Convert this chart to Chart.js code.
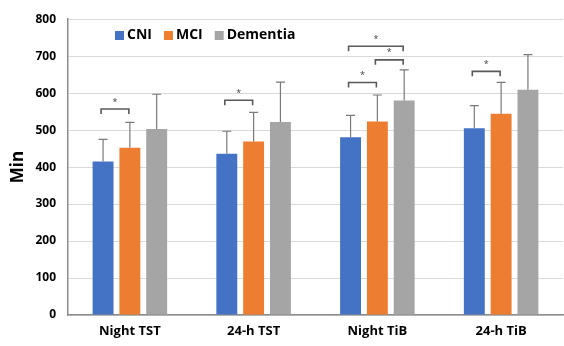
<!DOCTYPE html>
<html>
<head>
<meta charset="utf-8">
<script src="https://cdn.jsdelivr.net/npm/chart.js@4/dist/chart.umd.min.js"></script>
<style>
  html, body { margin: 0; padding: 0; background: #ffffff; }
  #wrap { width: 564px; height: 346px; }
</style>
</head>
<body>
<div id="wrap"><canvas id="c" width="564" height="346"></canvas></div>
<script>
const categories = ['Night TST', '24-h TST', 'Night TiB', '24-h TiB'];
const seriesNames = ['CNI', 'MCI', 'Dementia'];
const cniMeans = [415, 436, 481, 505];
const mciMeans = [452, 469, 523, 544];
const dementiaMeans = [503, 522, 580, 609];
const cniSD = [60, 61, 59, 61];
const mciSD = [69, 79, 72, 85];
const dementiaSD = [94, 108, 83, 95];
// significance brackets: [category index, from series, to series, level (min)]
const sigBrackets = [
  [0, 0, 1, 557],
  [1, 0, 1, 581],
  [2, 0, 1, 629],
  [2, 1, 2, 690],
  [2, 0, 2, 727],
  [3, 0, 1, 659]
];
const yTicks = [0, 100, 200, 300, 400, 500, 600, 700, 800];

const colors = ['#4472C4', '#ED7D31', '#A5A5A5'];
const means = [cniMeans, mciMeans, dementiaMeans];
const sds = [cniSD, mciSD, dementiaSD];
const FONT = "'Open Sans', 'Liberation Sans', sans-serif";

const errorBarPlugin = {
  id: 'errorBars',
  afterDatasetsDraw(chart) {
    const ctx = chart.ctx;
    const ys = chart.scales.y;
    ctx.save();
    chart.data.datasets.forEach((ds, di) => {
      const meta = chart.getDatasetMeta(di);
      meta.data.forEach((bar, i) => {
        const top = ys.getPixelForValue(means[di][i] + sds[di][i]);
        ctx.strokeStyle = '#7a7a7a';
        ctx.lineWidth = 1.2;
        ctx.beginPath();
        ctx.moveTo(bar.x, bar.y);
        ctx.lineTo(bar.x, top);
        ctx.moveTo(bar.x - 4.5, top);
        ctx.lineTo(bar.x + 4.5, top);
        ctx.stroke();
      });
    });
    // brackets
    sigBrackets.forEach(([ci, a, b, lvl]) => {
      const x1 = chart.getDatasetMeta(a).data[ci].x - 2;
      const x2 = chart.getDatasetMeta(b).data[ci].x - 1;
      const y = ys.getPixelForValue(lvl);
      ctx.strokeStyle = '#595959';
      ctx.lineWidth = 1.6;
      ctx.beginPath();
      ctx.moveTo(x1, y + 5);
      ctx.lineTo(x1, y);
      ctx.lineTo(x2, y);
      ctx.lineTo(x2, y + 5);
      ctx.stroke();
      ctx.fillStyle = '#404040';
      ctx.font = '9px ' + FONT;
      ctx.textAlign = 'center';
      ctx.textBaseline = 'middle';
      ctx.fillText('*', (x1 + x2) / 2, y - 7);
    });
    ctx.restore();
  }
};

const legendPlugin = {
  id: 'customLegend',
  afterDraw(chart) {
    const ctx = chart.ctx;
    ctx.save();
    ctx.font = 'bold 14px ' + FONT;
    ctx.textBaseline = 'middle';
    ctx.textAlign = 'left';
    let x = 115;
    const y = 35;
    chart.data.datasets.forEach((ds) => {
      ctx.fillStyle = ds.backgroundColor;
      ctx.fillRect(x, y - 4, 9, 9);
      ctx.fillStyle = '#000000';
      ctx.fillText(ds.label, x + 12, y);
      x += 12 + ctx.measureText(ds.label).width + 12;
    });
    ctx.restore();
  }
};

new Chart(document.getElementById('c'), {
  type: 'bar',
  data: {
    labels: categories,
    datasets: seriesNames.map((n, i) => ({
      label: n,
      data: means[i],
      backgroundColor: colors[i],
      borderWidth: 0,
      barPercentage: 0.78,
      categoryPercentage: 0.65
    }))
  },
  options: {
    responsive: false,
    animation: false,
    devicePixelRatio: 1,
    layout: { padding: { top: 17, right: 1, left: 0, bottom: 0 } },
    plugins: { legend: { display: false }, tooltip: { enabled: false } },
    scales: {
      x: {
        grid: { display: false, drawTicks: false },
        border: { color: '#8c8c8c', width: 1.5 },
        ticks: { color: '#000', font: { family: FONT, size: 13, weight: 'bold' }, padding: 8 },
        afterFit(s) { s.height = 31; }
      },
      y: {
        min: 0, max: 800,
        afterBuildTicks(s) { s.ticks = yTicks.map(v => ({ value: v })); },
        grid: { color: '#d9d9d9', drawTicks: false, lineWidth: 1 },
        border: { color: '#8c8c8c', width: 1.5 },
        ticks: { color: '#000', font: { family: FONT, size: 12, weight: 'bold' }, padding: 12 },
        title: { display: true, text: 'Min', color: '#000', font: { family: FONT, size: 17, weight: 'bold' }, padding: { top: 8, bottom: 0 } },
        afterFit(s) { s.width = 68; }
      }
    }
  },
  plugins: [errorBarPlugin, legendPlugin]
});
</script>
</body>
</html>
